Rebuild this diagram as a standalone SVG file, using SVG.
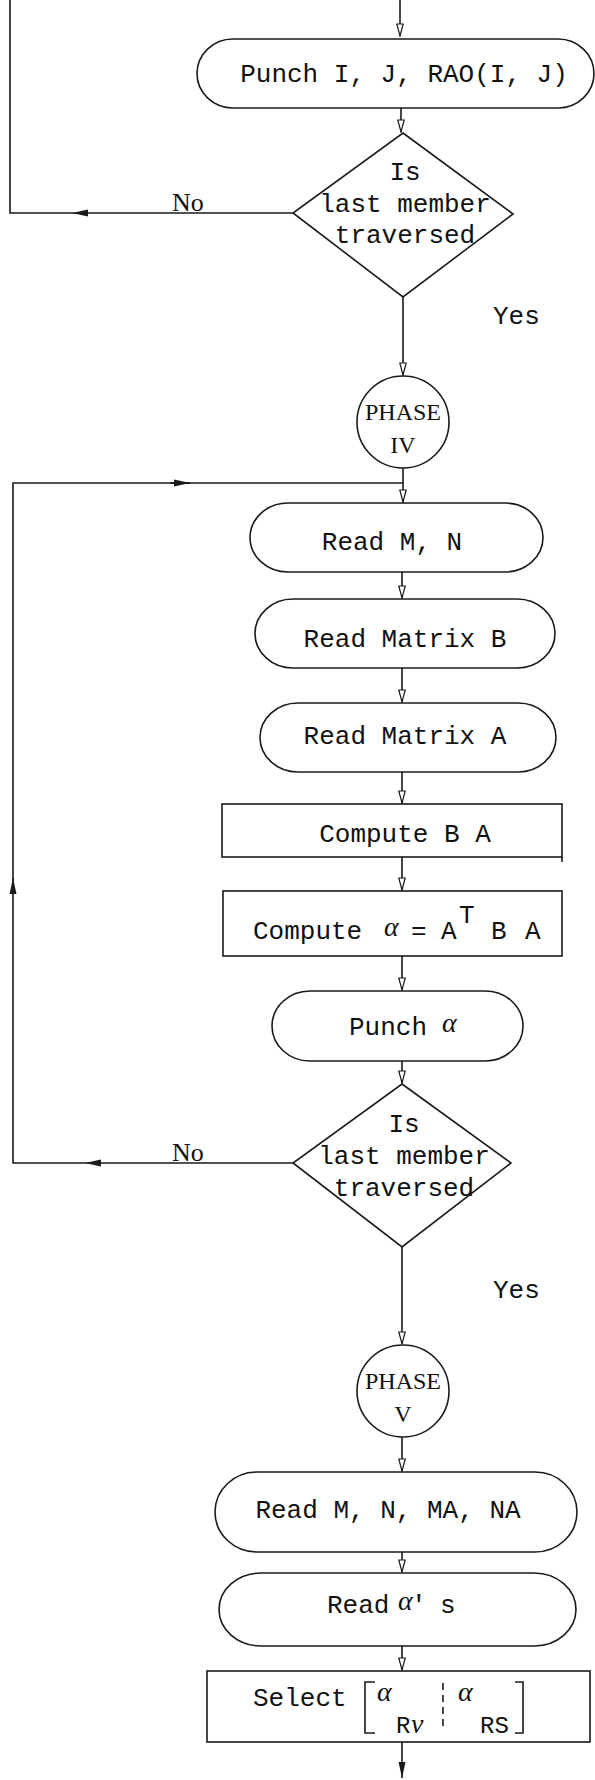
<svg xmlns="http://www.w3.org/2000/svg" width="595" height="1780" viewBox="0 0 595 1780">
<style>
.shape{fill:#fff;stroke:#1a1a1a;stroke-width:1.6}
.conn{fill:none;stroke:#1a1a1a;stroke-width:1.6}
.t{font-family:"Liberation Mono","DejaVu Sans Mono",monospace;font-size:26px;fill:#111}
.ts{font-family:"Liberation Mono","DejaVu Sans Mono",monospace;font-size:24px;fill:#111}
.s{font-family:"Liberation Serif","DejaVu Serif",serif;font-size:24px;fill:#111}
.no{font-family:"Liberation Serif","DejaVu Serif",serif;font-size:26px;fill:#111}
.g{font-family:"Liberation Serif","DejaVu Serif",serif;font-style:italic;font-size:28px;fill:#111}
.mid{text-anchor:middle}
</style>
<defs>
<marker id="open" markerWidth="14" markerHeight="8" refX="13" refY="4" orient="auto" markerUnits="userSpaceOnUse" viewBox="0 0 14 8">
<path d="M1,0.8 L13,4 L1,7.2 Z" fill="#fff" stroke="#1a1a1a" stroke-width="1.2"/>
</marker>
<marker id="solid" markerWidth="16" markerHeight="8" refX="16" refY="4" orient="auto" markerUnits="userSpaceOnUse" viewBox="0 0 16 8">
<path d="M0,0.5 L16,4 L0,7.5 Z" fill="#1a1a1a"/>
</marker>
</defs>

<g id="connectors">
<path class="conn" d="M400,0 V36" marker-end="url(#open)"/>
<path class="conn" d="M401,108 V132" marker-end="url(#open)"/>
<path class="conn" d="M293,213 H72" marker-end="url(#solid)"/>
<path class="conn" d="M72,213 H10 V0"/>
<path class="conn" d="M403,297 V375" marker-end="url(#open)"/>
<path class="conn" d="M403,468 V502" marker-end="url(#open)"/>
<path class="conn" d="M293,1163 H85" marker-end="url(#solid)"/>
<path class="conn" d="M85,1163 H13 V878"/>
<path class="conn" d="M13,893 V878" marker-end="url(#solid)"/>
<path class="conn" d="M13,878 V483 H190"/>
<path class="conn" d="M170,483 H190" marker-end="url(#solid)"/>
<path class="conn" d="M190,483 H403"/>
<path class="conn" d="M402,572 V598" marker-end="url(#open)"/>
<path class="conn" d="M402,668 V702" marker-end="url(#open)"/>
<path class="conn" d="M402,772 V803" marker-end="url(#open)"/>
<path class="conn" d="M402,857 V890" marker-end="url(#open)"/>
<path class="conn" d="M402,956 V990" marker-end="url(#open)"/>
<path class="conn" d="M402,1061 V1083" marker-end="url(#open)"/>
<path class="conn" d="M402,1247 V1344" marker-end="url(#open)"/>
<path class="conn" d="M402,1437 V1471" marker-end="url(#open)"/>
<path class="conn" d="M402,1552 V1572" marker-end="url(#open)"/>
<path class="conn" d="M402,1646 V1670" marker-end="url(#open)"/>
<path class="conn" d="M402,1742 V1778" marker-end="url(#solid)"/>
</g>

<g id="punch-ij">
<rect class="shape" x="197" y="39" width="397" height="69" rx="36" ry="34.5"/>
<text class="t mid" x="404" y="82">Punch I, J, RAO(I, J)</text>
</g>

<g id="decision-1">
<polygon class="shape" points="403,133 513,214 403,297 293,213"/>
<text class="t mid" x="405" y="180">Is</text>
<text class="t mid" x="405" y="212">last member</text>
<text class="t mid" x="405" y="243">traversed</text>
</g>
<g id="label-no-1"><text class="no" x="172" y="211">No</text></g>
<g id="label-yes-1"><text class="t" x="493" y="324">Yes</text></g>

<g id="phase-iv">
<circle class="shape" cx="403" cy="422" r="46"/>
<text class="s mid" x="403" y="420">PHASE</text>
<text class="s mid" x="403" y="453">IV</text>
</g>

<g id="read-mn">
<rect class="shape" x="250" y="503" width="293" height="69" rx="38" ry="34.5"/>
<text class="t mid" x="392" y="550">Read M, N</text>
</g>

<g id="read-b">
<rect class="shape" x="255" y="599" width="300" height="69" rx="38" ry="34.5"/>
<text class="t mid" x="405" y="647">Read Matrix B</text>
</g>

<g id="read-a">
<rect class="shape" x="260" y="703" width="296" height="69" rx="38" ry="34.5"/>
<text class="t mid" x="405" y="744">Read Matrix A</text>
</g>

<g id="compute-ba">
<rect class="shape" x="222" y="804" width="340" height="53"/>
<path class="conn" d="M562,857 V862"/>
<text class="t mid" x="405" y="842">Compute B A</text>
</g>

<g id="compute-alpha">
<rect class="shape" x="223" y="891" width="339" height="65"/>
<text class="t" y="939"><tspan x="253">Compute</tspan><tspan class="g" x="384" y="936">α</tspan><tspan x="411" y="939">=</tspan><tspan x="441">A</tspan><tspan x="459" y="923">T</tspan><tspan x="491" y="939">B</tspan><tspan x="525">A</tspan></text>
</g>

<g id="punch-alpha">
<rect class="shape" x="272" y="991" width="251" height="70" rx="38" ry="35"/>
<text class="t" y="1035"><tspan x="349">Punch</tspan><tspan class="g" x="442" y="1032">α</tspan></text>
</g>

<g id="decision-2">
<polygon class="shape" points="402,1084 511,1163 402,1247 293,1163"/>
<text class="t mid" x="404" y="1132">Is</text>
<text class="t mid" x="404" y="1164">last member</text>
<text class="t mid" x="404" y="1196">traversed</text>
</g>
<g id="label-no-2"><text class="no" x="172" y="1161">No</text></g>
<g id="label-yes-2"><text class="t" x="493" y="1298">Yes</text></g>

<g id="phase-v">
<circle class="shape" cx="403" cy="1391" r="46"/>
<text class="s mid" x="403" y="1389">PHASE</text>
<text class="s mid" x="403" y="1422">V</text>
</g>

<g id="read-mn-ma-na">
<rect class="shape" x="215" y="1472" width="362" height="80" rx="42" ry="40"/>
<text class="t mid" x="388" y="1518">Read M, N, MA, NA</text>
</g>

<g id="read-alphas">
<rect class="shape" x="219" y="1573" width="357" height="73" rx="42" ry="36.5"/>
<text class="t" y="1613"><tspan x="327">Read</tspan><tspan class="g" x="398" y="1610">α</tspan><tspan x="411" y="1613">'</tspan><tspan x="440">s</tspan></text>
</g>

<g id="select">
<rect class="shape" x="207" y="1671" width="383" height="71"/>
<text class="t" x="253" y="1706">Select</text>
<path class="conn" d="M375,1682 H365 V1733 H375"/>
<path class="conn" d="M515,1682 H523 V1733 H515"/>
<path class="conn" d="M443,1683 V1730" stroke-dasharray="7 5"/>
<text class="g" x="377" y="1701">α</text>
<text class="ts" y="1733"><tspan x="396">R</tspan><tspan class="g" x="411" y="1733">ν</tspan></text>
<text class="g" x="458" y="1701">α</text>
<text class="ts" x="480" y="1733">RS</text>
</g>
</svg>
